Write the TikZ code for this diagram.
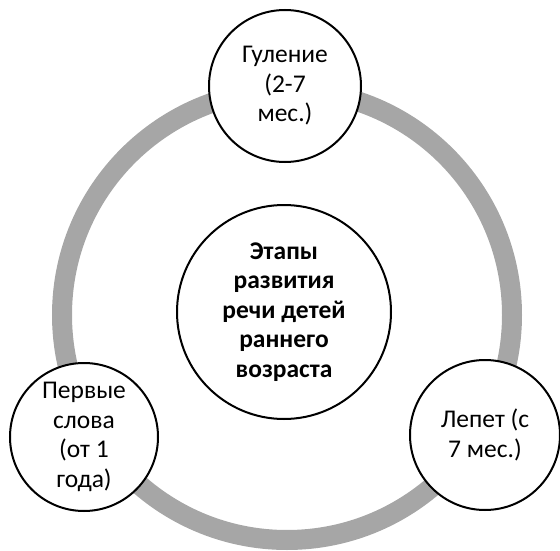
\documentclass[tikz,border=0pt]{standalone}
\usepackage{fontspec}
\setmainfont{Carlito}
\definecolor{ringgray}{HTML}{A6A6A6}
\begin{document}
\begin{tikzpicture}[x=1pt,y=-1pt,
  stage/.style={circle, draw=black, line width=2pt, fill=white, align=center, inner sep=0pt, font=\fontsize{25.5}{29.5}\selectfont},
  hub/.style={stage, font=\fontsize{25.5}{29.5}\selectfont\bfseries}]
\useasboundingbox (0,0) rectangle (560,551);
\coordinate (ringc) at (287,315);
\draw[ringgray, line width=20pt] (ringc) circle (225);
\node[hub, minimum size=214pt] (hubn) at (284,312) {Этапы\\развития\\речи детей\\раннего\\возраста};
\node[stage, minimum size=152pt] (gul) at (285,86) {Гуление\\(2-7\\мес.)};
\node[stage, minimum size=150pt] (lep) at (485,435) {Лепет (с\\7 мес.)};
\node[stage, minimum size=148pt] (slo) at (84,437) {Первые\\слова\\(от 1\\года)};
\end{tikzpicture}
\end{document}
